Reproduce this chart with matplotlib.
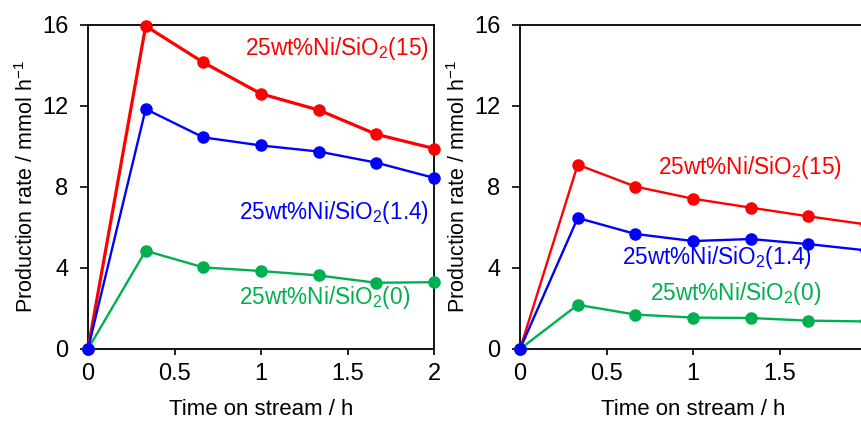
import matplotlib
matplotlib.use('Agg')
import matplotlib.pyplot as plt

plt.rcParams['font.family'] = ['Liberation Sans', 'DejaVu Sans']
plt.rcParams['mathtext.fontset'] = 'custom'
plt.rcParams['mathtext.rm'] = 'Liberation Sans'

# time on stream (h)
time_h = [0, 1 / 3, 2 / 3, 1, 4 / 3, 5 / 3, 2]

# left panel
left_15 = [0, 15.95, 14.15, 12.6, 11.8, 10.6, 9.9]
left_14 = [0, 11.85, 10.45, 10.05, 9.75, 9.2, 8.45]
left_0 = [0, 4.85, 4.03, 3.85, 3.63, 3.27, 3.3]

# right panel
right_15 = [0, 9.1, 8.02, 7.42, 6.98, 6.55, 6.15]
right_14 = [0, 6.47, 5.68, 5.33, 5.43, 5.18, 4.87]
right_0 = [0, 2.18, 1.7, 1.55, 1.53, 1.4, 1.36]

labels = ['25wt%Ni/SiO$_2$(15)', '25wt%Ni/SiO$_2$(1.4)', '25wt%Ni/SiO$_2$(0)']
colors = ['#ff0000', '#0000ff', '#00b050']

x_ticks = [0, 0.5, 1, 1.5, 2]
x_tick_labels = ['0', '0.5', '1', '1.5', '2']
y_ticks = [0, 4, 8, 12, 16]

fig = plt.figure(figsize=(8.61, 4.24), dpi=100)
ax_l = fig.add_axes([0.1022, 0.1769, 0.4019, 0.7642])
ax_r = fig.add_axes([0.604, 0.1769, 0.4019, 0.7642])


def draw(ax, series, label_pos, red_lw):
    # red, green, blue so that blue sits on top at the origin
    for idx in (0, 2, 1):
        lw = red_lw if idx == 0 else 1.7
        ax.plot(time_h, series[idx], color=colors[idx], lw=lw, marker='o',
                ms=8, clip_on=False, zorder=3)
    for (x, y, ha), text, c in zip(label_pos, labels, colors):
        ax.text(x, y, text, color=c, fontsize=16.3, ha=ha, va='center')
    ax.set_xlim(0, 2)
    ax.set_ylim(0, 16)
    ax.set_xticks(x_ticks)
    ax.set_xticklabels(x_tick_labels)
    ax.set_yticks(y_ticks)
    ax.tick_params(direction='out', width=1.2, labelsize=17)
    ax.tick_params(axis='y', length=6, pad=8)
    ax.tick_params(axis='x', length=4, pad=6)
    for s in ax.spines.values():
        s.set_linewidth(1.3)
    ax.set_xlabel('Time on stream / h', fontsize=16, labelpad=10)
    ax.set_ylabel('Production rate / mmol h$^{-1}$', fontsize=15.5, labelpad=3)


draw(ax_l, [left_15, left_14, left_0],
     [(1.97, 14.85, 'right'), (1.97, 6.75, 'right'), (1.86, 2.55, 'right')], 2.3)
draw(ax_r, [right_15, right_14, right_0],
     [(0.8, 8.95, 'left'), (0.59, 4.5, 'left'), (0.75, 2.75, 'left')], 1.7)

fig.savefig('out.png', dpi=100)
